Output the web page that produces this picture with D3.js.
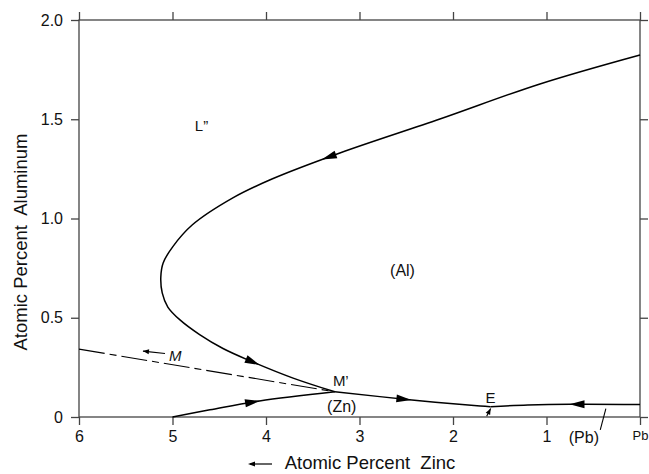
<!DOCTYPE html>
<html>
<head>
<meta charset="utf-8">
<script src="https://cdn.jsdelivr.net/npm/d3@7"></script>
<style>
  body { margin: 0; background: #fff; }
  text { font-family: "Liberation Sans", Arial, sans-serif; }
</style>
</head>
<body>
<script>
// tick values and labels
let xTicks = [6, 5, 4, 3, 2, 1, 0]
let xTickLabels = ['6', '5', '4', '3', '2', '1', 'Pb']
let yTicks = [0, 0.5, 1.0, 1.5, 2.0]
let yTickLabels = ['0', '0.5', '1.0', '1.5', '2.0']

// curves, [at.% Zn, at.% Al]
let liquidusUpper = [[0.0, 1.824], [1.07, 1.678], [2.14, 1.501], [3.21, 1.33], [3.93, 1.20],
  [4.35, 1.105], [4.79, 0.967], [5.00, 0.856], [5.10, 0.776], [5.125, 0.705], [5.11, 0.625],
  [5.05, 0.554], [4.92, 0.489], [4.71, 0.415], [4.46, 0.345], [4.17, 0.283],
  [3.71, 0.196], [3.264, 0.127]]
let zincBranch = [[5.0, 0.0], [4.6, 0.036], [4.07, 0.081], [3.264, 0.127]]
let mPrimeToE = [[3.264, 0.127], [2.44, 0.086], [1.71, 0.055], [1.60, 0.052]]
let pbToE = [[0.0, 0.063], [0.75, 0.064], [1.2, 0.06], [1.60, 0.052]]
let metastable = [[6.0, 0.342], [3.264, 0.127]]

// arrow tips on the curves (direction = along the curve as listed)
let upperArrows = [[3.40, 1.295], [4.066, 0.262]]
let zincArrows = [[4.066, 0.081]]
let mPrimeArrows = [[2.444, 0.086]]
let pbArrows = [[0.753, 0.064]]

// small pointer arrows [tail, tip]
let mPointer = [[5.08, 0.32], [5.316, 0.332]]
let ePointer = [[1.64, 0.004], [1.597, 0.043]]
let pbLeader = [[0.425, -0.065], [0.365, 0.042]]

let labels = [
  { text: 'L\u201D', x: 4.69, y: 1.44, size: 15 },
  { text: '(Al)', x: 2.54, y: 0.71, size: 16 },
  { text: 'M', x: 4.97, y: 0.28, size: 15, italic: true },
  { text: 'M\u2019', x: 3.2, y: 0.155, size: 15 },
  { text: '(Zn)', x: 3.19, y: 0.027, size: 16 },
  { text: 'E', x: 1.6, y: 0.07, size: 15 }
]

let width = 649, height = 474
let margin = { top: 20, bottom: 57, left: 79, right: 9 }

let svg = d3.select('body')
  .append('svg')
  .attr('width', width)
  .attr('height', height)

let xScale = d3.scaleLinear()
  .domain([6, 0])
  .range([margin.left, width - margin.right])

let yScale = d3.scaleLinear()
  .domain([0, 2])
  .range([height - margin.bottom, margin.top])

let axisColor = '#444'

function styleAxis(g) {
  g.select('.domain').remove()
  g.selectAll('.tick line').attr('stroke', axisColor).attr('stroke-width', 1.3)
  g.selectAll('.tick text').attr('fill', '#111')
}

// frame
svg.append('rect')
  .attr('x', xScale(6))
  .attr('y', yScale(2))
  .attr('width', xScale(0) - xScale(6))
  .attr('height', yScale(0) - yScale(2))
  .attr('fill', 'none')
  .attr('stroke', axisColor)
  .attr('stroke-width', 1.3)

svg.append('g')
  .attr('transform', `translate(0, ${yScale(0)})`)
  .call(d3.axisBottom(xScale).tickValues(xTicks).tickFormat((d, i) => xTickLabels[i]).tickSize(8).tickPadding(6))
  .call(styleAxis)
  .selectAll('.tick text')
  .style('font-size', (d, i) => xTickLabels[i] == 'Pb' ? '13px' : '16px')

svg.append('g')
  .attr('transform', `translate(0, ${yScale(2)})`)
  .call(d3.axisTop(xScale).tickValues(xTicks).tickFormat('').tickSize(8))
  .call(styleAxis)

svg.append('g')
  .attr('transform', `translate(${xScale(6)}, 0)`)
  .call(d3.axisLeft(yScale).tickValues(yTicks).tickFormat((d, i) => yTickLabels[i]).tickSize(8).tickPadding(8))
  .call(styleAxis)
  .selectAll('.tick text')
  .style('font-size', '16px')

svg.append('g')
  .attr('transform', `translate(${xScale(0)}, 0)`)
  .call(d3.axisRight(yScale).tickValues(yTicks).tickFormat('').tickSize(8))
  .call(styleAxis)

// axis titles
svg.append('text')
  .attr('x', 370)
  .attr('y', 469)
  .text('Atomic Percent  Zinc')
  .style('text-anchor', 'middle')
  .style('font-size', '18.5px')
  .style('white-space', 'pre')
  .attr('fill', '#111')

svg.append('text')
  .attr('x', 0 - 242)
  .attr('y', 27)
  .text('Atomic Percent  Aluminum')
  .style('text-anchor', 'middle')
  .style('font-size', '18.5px')
  .style('white-space', 'pre')
  .attr('transform', 'rotate(-90)')
  .attr('fill', '#111')

// curves
let line = d3.line()
  .x(d => xScale(d[0]))
  .y(d => yScale(d[1]))

let smooth = d3.line()
  .x(d => xScale(d[0]))
  .y(d => yScale(d[1]))
  .curve(d3.curveCatmullRom.alpha(0.5))

function drawCurve(data, gen) {
  return svg.append('path')
    .datum(data)
    .attr('d', gen)
    .attr('fill', 'none')
    .attr('stroke', '#000')
    .attr('stroke-width', 1.5)
}

let upperPath = drawCurve(liquidusUpper, smooth)
let zincPath = drawCurve(zincBranch, smooth)
let mePath = drawCurve(mPrimeToE, smooth)
let pbPath = drawCurve(pbToE, smooth)

svg.append('path')
  .datum(metastable)
  .attr('d', line)
  .attr('fill', 'none')
  .attr('stroke', '#000')
  .attr('stroke-width', 1.1)
  .attr('stroke-dasharray', '26,5,7,5')

// arrowheads placed along a path
function arrowsOn(path, tips, len, half) {
  let node = path.node()
  let total = node.getTotalLength()
  tips.forEach(t => {
    let px = xScale(t[0]), py = yScale(t[1])
    let best = 0, bestD = Infinity
    for (let l = 0; l <= total; l += 0.5) {
      let p = node.getPointAtLength(l)
      let dd = (p.x - px) ** 2 + (p.y - py) ** 2
      if (dd < bestD) { bestD = dd; best = l }
    }
    let tip = node.getPointAtLength(best)
    let back = node.getPointAtLength(Math.max(0, best - len))
    let a = Math.atan2(tip.y - back.y, tip.x - back.x)
    let bx = tip.x - len * Math.cos(a), by = tip.y - len * Math.sin(a)
    let nx = -Math.sin(a) * half, ny = Math.cos(a) * half
    svg.append('path')
      .attr('d', `M${tip.x},${tip.y}L${bx + nx},${by + ny}L${bx - nx},${by - ny}Z`)
      .attr('fill', '#000')
  })
}

arrowsOn(upperPath, upperArrows, 15, 4)
arrowsOn(zincPath, zincArrows, 15, 4)
arrowsOn(mePath, mPrimeArrows, 15, 4)
arrowsOn(pbPath, pbArrows, 15, 4)

// small pointers
function pointer(pts, head) {
  let x0 = xScale(pts[0][0]), y0 = yScale(pts[0][1])
  let x1 = xScale(pts[1][0]), y1 = yScale(pts[1][1])
  svg.append('line')
    .attr('x1', x0).attr('y1', y0).attr('x2', x1).attr('y2', y1)
    .attr('stroke', '#000').attr('stroke-width', 1.1)
  if (head) {
    let a = Math.atan2(y1 - y0, x1 - x0)
    let bx = x1 - 6 * Math.cos(a), by = y1 - 6 * Math.sin(a)
    let nx = -Math.sin(a) * 2.5, ny = Math.cos(a) * 2.5
    svg.append('path')
      .attr('d', `M${x1},${y1}L${bx + nx},${by + ny}L${bx - nx},${by - ny}Z`)
      .attr('fill', '#000')
  }
}

pointer(mPointer, true)
pointer(ePointer, true)
pointer(pbLeader, false)

// arrow beside the x title
svg.append('line')
  .attr('x1', 272).attr('y1', 464).attr('x2', 250).attr('y2', 464)
  .attr('stroke', '#000').attr('stroke-width', 1.2)
svg.append('path')
  .attr('d', 'M248,464L255,461.5L255,466.5Z')
  .attr('fill', '#000')

// region labels
svg.selectAll('.lbl')
  .data(labels)
  .enter()
  .append('text')
  .attr('class', 'lbl')
  .attr('x', d => xScale(d.x))
  .attr('y', d => yScale(d.y))
  .text(d => d.text)
  .style('text-anchor', 'middle')
  .style('font-size', d => d.size + 'px')
  .style('font-style', d => d.italic ? 'italic' : 'normal')
  .attr('fill', '#111')

svg.append('text')
  .attr('x', xScale(0.6))
  .attr('y', 443)
  .text('(Pb)')
  .style('text-anchor', 'middle')
  .style('font-size', '16px')
  .attr('fill', '#111')
</script>
</body>
</html>
